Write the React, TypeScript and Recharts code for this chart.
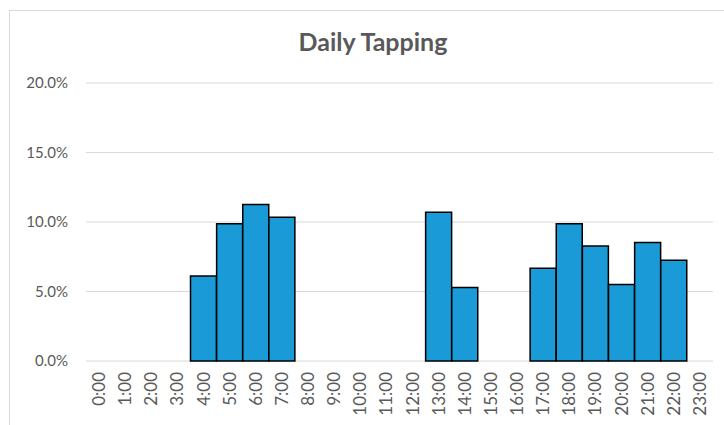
import React from 'react';
import { BarChart, Bar, XAxis, YAxis, CartesianGrid } from 'recharts';

// hours of the day and share of taps per hour
const hours = [
  '0:00', '1:00', '2:00', '3:00', '4:00', '5:00', '6:00', '7:00',
  '8:00', '9:00', '10:00', '11:00', '12:00', '13:00', '14:00', '15:00',
  '16:00', '17:00', '18:00', '19:00', '20:00', '21:00', '22:00', '23:00',
];
const shares = [
  0, 0, 0, 0, 0.0612, 0.0988, 0.1126, 0.1035,
  0, 0, 0, 0, 0, 0.1071, 0.0529, 0,
  0, 0.0667, 0.0988, 0.0827, 0.055, 0.0852, 0.0725, 0,
];
const yTicks = [0, 0.05, 0.1, 0.15, 0.2];

const data = hours.map((hour, i) => ({ hour, share: shares[i] }));

const font = 'Lato, "Open Sans", sans-serif';
const gray = '#595959';

const HourTick = (props: any) => {
  const { x, y, payload } = props;
  return (
    <text
      x={0}
      y={0}
      transform={`translate(${x + 6},${y + 3}) rotate(-90)`}
      textAnchor="end"
      fill={gray}
      fontSize={17}
      fontFamily={font}
    >
      {payload.value}
    </text>
  );
};

const App = () => {
  return (
    <div style={{ position: 'absolute', left: 0, top: 0, width: 724, height: 425, background: '#fff', overflow: 'hidden' }}>
      <div
        style={{
          position: 'absolute',
          left: 9,
          top: 10,
          width: 730,
          height: 430,
          border: '1px solid #d9d9d9',
          boxSizing: 'border-box',
        }}
      />
      <div
        style={{
          position: 'absolute',
          left: 0,
          width: 746,
          top: 26,
          textAlign: 'center',
          fontFamily: font,
          fontWeight: 'bold',
          fontSize: 25,
          color: gray,
        }}
      >
        Daily Tapping
      </div>
      <div style={{ position: 'absolute', left: 0, top: 0 }}>
        <BarChart
          width={724}
          height={425}
          data={data}
          margin={{ top: 83, right: 11, bottom: 14, left: 0 }}
          barCategoryGap={0}
        >
          <CartesianGrid vertical={false} stroke="#d9d9d9" />
          <XAxis
            dataKey="hour"
            interval={0}
            axisLine={false}
            tickLine={false}
            height={50}
            tick={<HourTick />}
          />
          <YAxis
            domain={[0, 0.2]}
            ticks={yTicks}
            width={86}
            axisLine={false}
            tickLine={false}
            tickSize={0}
            tickMargin={18}
            tickFormatter={(v: number) => `${(v * 100).toFixed(1)}%`}
            tick={{ fill: gray, fontSize: 15, fontFamily: font }}
          />
          <Bar dataKey="share" fill="#1a9ad6" stroke="#000" strokeWidth={1.5} isAnimationActive={false} />
        </BarChart>
      </div>
    </div>
  );
};

export default App;
